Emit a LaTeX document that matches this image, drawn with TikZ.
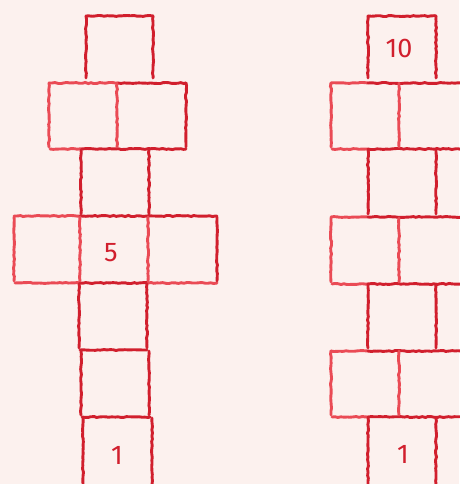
\documentclass[tikz,border=0pt]{standalone}
\usepackage{fontspec}
\setmainfont{Fira Sans}
\usetikzlibrary{decorations.pathmorphing}
\definecolor{bg}{HTML}{FCF1EE}
\definecolor{redA}{HTML}{D11F2D}
\definecolor{redB}{HTML}{EA4B55}
\tikzset{
  chalk/.style={line width=2.9pt, line cap=round, decorate,
    decoration={random steps, segment length=3pt, amplitude=0.55pt}},
  dk/.style={chalk, draw=redA},
  lt/.style={chalk, draw=redB},
  num/.style={text=redA, font=\fontsize{27}{29}\selectfont, inner sep=0pt}
}
\begin{document}
\begin{tikzpicture}[x=1pt,y=-1pt]
\pgfmathsetseed{7}
\fill[bg] (0,0) rectangle (459,484);
\useasboundingbox (0,0) rectangle (459,484);
% ---------- left figure ----------
% horizontal lines
\draw[dk] (86,16) -- (153,16);
\draw[lt] (49,83) -- (118,83);
\draw[dk] (118,83) -- (186,83);
\draw[lt] (50,149) -- (82,149);
\draw[dk] (82,149) -- (186,149);
\draw[lt] (14,216) -- (80,216);
\draw[dk] (80,216) -- (217,216);
\draw[lt] (15,283) -- (80,283);
\draw[dk] (80,283) -- (148,283);
\draw[lt] (148,283) -- (217,283);
\draw[dk] (80,350) -- (147,350);
\draw[dk] (82,417) -- (150,417);
% vertical lines
\draw[dk] (86,16) -- (86,78);
\draw[dk] (153,16) -- (153,78);
\draw[lt] (49,83) -- (49,147);
\draw[lt] (117,83) -- (117,147);
\draw[dk] (186,83) -- (186,147);
\draw[dk] (81,150) -- (81,214);
\draw[dk] (149,150) -- (149,214);
\draw[lt] (14,217) -- (14,281);
\draw[lt] (80,217) -- (80,281);
\draw[lt] (148,217) -- (148,281);
\draw[dk] (217,217) -- (217,281);
\draw[dk] (79,284) -- (79,348);
\draw[dk] (147,284) -- (147,348);
\draw[dk] (81,351) -- (81,415);
\draw[dk] (149,351) -- (149,415);
\draw[dk] (83,418) -- (83,484);
\draw[dk] (152,418) -- (152,484);
% ---------- right figure ----------
\draw[dk] (368,16) -- (436,16);
\draw[lt] (331,83) -- (368,83);
\draw[dk] (368,83) -- (470,83);
\draw[lt] (332,149) -- (368,149);
\draw[dk] (368,149) -- (470,149);
\draw[lt] (331,217) -- (368,217);
\draw[dk] (368,217) -- (470,217);
\draw[lt] (332,284) -- (368,284);
\draw[dk] (368,284) -- (470,284);
\draw[lt] (331,351) -- (368,351);
\draw[dk] (368,351) -- (470,351);
\draw[lt] (332,417) -- (368,417);
\draw[dk] (368,417) -- (470,417);
% vertical
\draw[dk] (368,16) -- (368,78);
\draw[dk] (436,16) -- (436,78);
\draw[lt] (331,83) -- (331,147);
\draw[lt] (399,83) -- (399,147);
\draw[dk] (368,150) -- (368,214);
\draw[dk] (436,150) -- (436,214);
\draw[lt] (331,218) -- (331,282);
\draw[lt] (399,218) -- (399,282);
\draw[dk] (368,284) -- (368,348);
\draw[dk] (436,284) -- (436,348);
\draw[lt] (331,351) -- (331,415);
\draw[lt] (399,351) -- (399,415);
\draw[dk] (368,418) -- (368,484);
\draw[dk] (436,418) -- (436,484);
% ---------- numbers ----------
\node[num] (n5) at (111,253) {5};
\node[num] (n1a) at (117,455) {1};
\node[num] (n10) at (399,48) {10};
\node[num] (n1b) at (403,454) {1};
\end{tikzpicture}
\end{document}
